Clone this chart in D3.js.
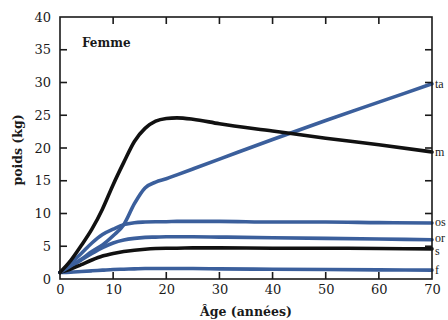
<!DOCTYPE html>
<html><head><meta charset="utf-8">
<script src="https://cdn.jsdelivr.net/npm/d3@7"></script>
<style>
html,body{margin:0;padding:0;background:#fff;}
svg{display:block;}
text{font-family:"DejaVu Serif","Liberation Serif",serif;fill:#1a1a1a;}
</style></head>
<body>
<svg id="c" width="448" height="320"></svg>
<script>
const ages = [0, 2, 4, 6, 8, 10, 12, 14, 16, 18, 20, 22, 25, 30, 40, 50, 60, 70];
const tissuAdipeux = [1.0, 2.0, 3.0, 4.2, 5.2, 6.6, 8.3, 11.5, 13.9, 14.8, 15.3, 15.9, 16.8, 18.3, 21.3, 24.2, 27.0, 29.8];
const muscles      = [1.0, 2.8, 5.1, 7.6, 10.7, 14.4, 17.8, 21.0, 23.0, 24.1, 24.5, 24.6, 24.4, 23.7, 22.6, 21.5, 20.5, 19.4];
const os           = [1.0, 2.4, 3.9, 5.5, 6.8, 7.6, 8.3, 8.6, 8.7, 8.75, 8.75, 8.8, 8.8, 8.8, 8.7, 8.7, 8.6, 8.55];
const organes      = [1.0, 1.9, 2.9, 3.9, 4.8, 5.5, 5.95, 6.2, 6.35, 6.4, 6.45, 6.45, 6.45, 6.4, 6.3, 6.2, 6.1, 6.0];
const sang         = [1.0, 1.5, 2.2, 2.9, 3.5, 3.9, 4.2, 4.4, 4.55, 4.65, 4.7, 4.7, 4.75, 4.75, 4.7, 4.7, 4.65, 4.6];
const foie         = [1.0, 1.05, 1.15, 1.25, 1.35, 1.45, 1.5, 1.55, 1.6, 1.6, 1.6, 1.6, 1.6, 1.55, 1.5, 1.45, 1.4, 1.35];
const seriesNames  = ["ta", "m", "os", "or", "s", "f"];
const seriesColors = ["#3b5f9c", "#111111", "#3b5f9c", "#3b5f9c", "#111111", "#3b5f9c"];
const yTicks = [0, 5, 10, 15, 20, 25, 30, 35, 40];
const xTicks = [0, 10, 20, 30, 40, 50, 60, 70];
const seriesValues = [tissuAdipeux, muscles, os, organes, sang, foie];

const svg = d3.select("#c");
const x = d3.scaleLinear().domain([0, 70]).range([60, 432]);
const y = d3.scaleLinear().domain([0, 40]).range([279, 17]);

const line = d3.line().x((d, i) => x(ages[i])).y(d => y(d)).curve(d3.curveMonotoneX);

// draw order: lower first
const order = [5, 3, 2, 4, 0, 1];
order.forEach(k => {
  svg.append("path").datum(seriesValues[k])
    .attr("d", line).attr("fill", "none")
    .attr("stroke", seriesColors[k]).attr("stroke-width", 3.6)
    .attr("stroke-linecap", "round").attr("stroke-linejoin", "round");
});

// frame
svg.append("rect").attr("x", x(0)).attr("y", y(40)).attr("width", x(70) - x(0)).attr("height", y(0) - y(40))
  .attr("fill", "none").attr("stroke", "#1a1a1a").attr("stroke-width", 1.6);

// axes
const tickFont = g => g.selectAll("text").style("font-family", "DejaVu Serif, serif").style("font-size", "13px").attr("fill", "#1a1a1a");
const left = svg.append("g").attr("transform", `translate(${x(0)},0)`)
  .call(d3.axisLeft(y).tickValues(yTicks).tickSize(0).tickPadding(9).tickFormat(d3.format("d")));
left.select(".domain").remove(); tickFont(left);
const bottom = svg.append("g").attr("transform", `translate(0,${y(0)})`)
  .call(d3.axisBottom(x).tickValues(xTicks).tickSize(0).tickPadding(6).tickFormat(d3.format("d")));
bottom.select(".domain").remove(); tickFont(bottom);

// inner ticks
const inner = svg.append("g").attr("stroke", "#1a1a1a").attr("stroke-width", 1.6);
yTicks.filter(v => v > 0 && v < 40).forEach(v => {
  inner.append("line").attr("x1", x(0)).attr("x2", x(0) + 7).attr("y1", y(v)).attr("y2", y(v));
  inner.append("line").attr("x1", x(70)).attr("x2", x(70) - 7).attr("y1", y(v)).attr("y2", y(v));
});
xTicks.filter(v => v > 0 && v < 70).forEach(v => {
  inner.append("line").attr("x1", x(v)).attr("x2", x(v)).attr("y1", y(0)).attr("y2", y(0) - 7);
  inner.append("line").attr("x1", x(v)).attr("x2", x(v)).attr("y1", y(40)).attr("y2", y(40) + 7);
});

// right labels (small nudges to keep the close ones apart)
const labelNudge = [0, 0, -1, -2, 2, 0];
seriesNames.forEach((n, k) => {
  const v = seriesValues[k][seriesValues[k].length - 1];
  svg.append("text").attr("x", x(70) + 3).attr("y", y(v) + labelNudge[k]).attr("dy", "0.32em")
    .style("font-family", "Liberation Serif, serif").style("font-size", "12px").text(n);
});

svg.append("text").attr("x", 82).attr("y", 47).style("font-size", "12px").style("font-weight", "bold").text("Femme");
svg.append("text").attr("x", (x(0) + x(70)) / 2).attr("y", 316).attr("text-anchor", "middle")
  .style("font-size", "12.5px").style("font-weight", "bold").text("Âge (années)");
svg.append("text").attr("transform", `translate(22,${(y(0)+y(40))/2 + 2}) rotate(-90)`).attr("text-anchor", "middle")
  .style("font-size", "12.5px").style("font-weight", "bold").text("poids (kg)");
</script>
</body></html>
